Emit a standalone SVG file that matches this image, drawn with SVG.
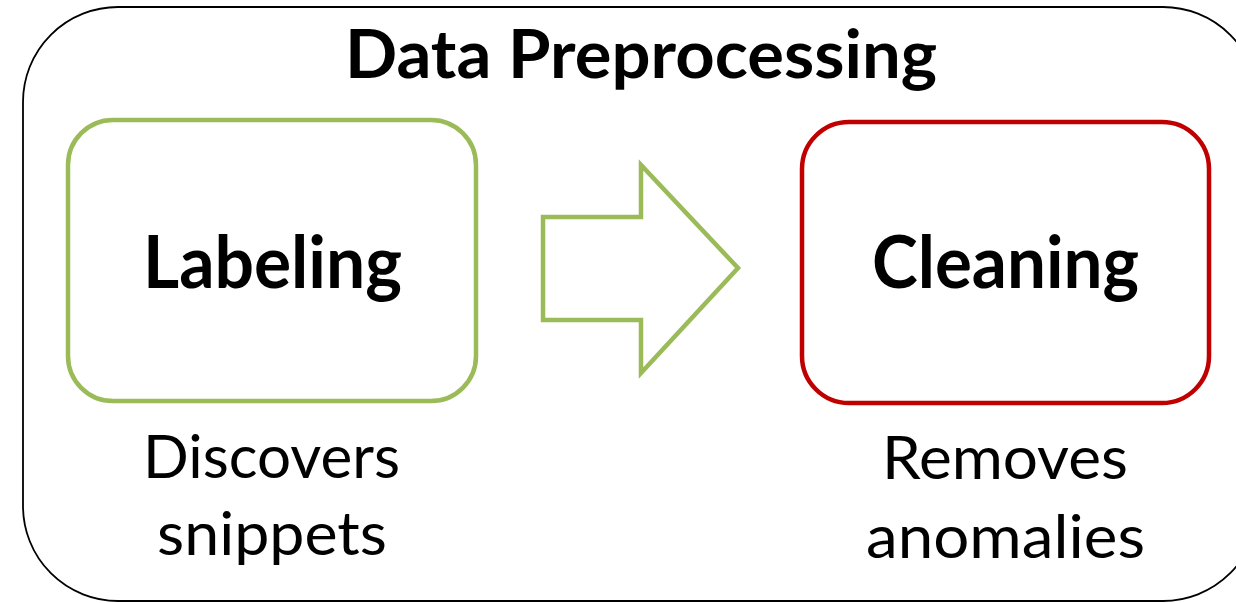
<svg xmlns="http://www.w3.org/2000/svg" width="1236" height="603" viewBox="0 0 1236 603">
<style>
text{font-family:Lato,"Open Sans","Liberation Sans",sans-serif;fill:#000;text-anchor:middle}
.b{font-weight:bold}
.t{font-size:66px}
.n{font-size:73px}
.d{font-size:60px}
.green{fill:#fff;stroke:#9BBB59;stroke-width:4.5}
.red{fill:#fff;stroke:#C00000;stroke-width:4.5}
</style>
<rect width="1236" height="603" fill="#fff"/>
<g id="container">
<rect x="23" y="7" width="1235" height="594" rx="95" ry="95" fill="#fff" stroke="#000" stroke-width="1.8"/>
<text class="t b" x="641" y="78" textLength="592" lengthAdjust="spacingAndGlyphs">Data Preprocessing</text>
</g>
<g id="labeling">
<rect class="green" x="68" y="120" width="408" height="281" rx="45" ry="45"/>
<text class="n b" x="272.5" y="288" textLength="259" lengthAdjust="spacingAndGlyphs">Labeling</text>
<text class="d" x="271.5" y="478" textLength="257" lengthAdjust="spacingAndGlyphs">Discovers</text>
<text class="d" x="272" y="555" textLength="230" lengthAdjust="spacingAndGlyphs">snippets</text>
</g>
<g id="cleaning">
<rect class="red" x="802" y="122" width="407" height="281" rx="47" ry="47"/>
<text class="n b" x="1005.5" y="288" textLength="267" lengthAdjust="spacingAndGlyphs">Cleaning</text>
<text class="d" x="1005" y="479" textLength="246" lengthAdjust="spacingAndGlyphs">Removes</text>
<text class="d" x="1005.5" y="558" textLength="279" lengthAdjust="spacingAndGlyphs">anomalies</text>
</g>
<g id="connectors">
<polygon class="green" points="543,217 641,217 641,165 738,268 641,373 641,320 543,320" stroke-linejoin="miter"/>
</g>
</svg>
